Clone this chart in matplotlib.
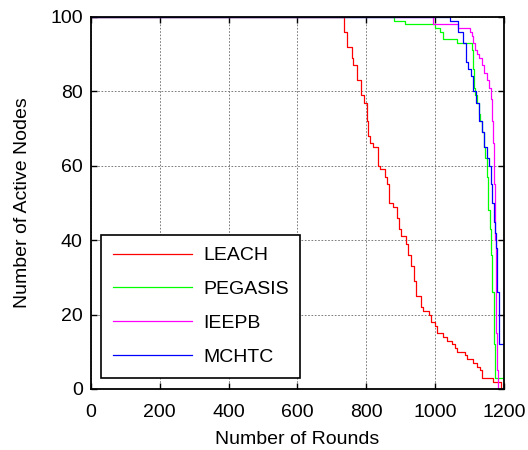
import numpy as np
import matplotlib
matplotlib.use('Agg')
import matplotlib.pyplot as plt

plt.rcParams['font.family'] = ['Liberation Sans', 'DejaVu Sans']
plt.rcParams['font.size'] = 14

# alive nodes per round (step changes only)
leach_rounds = [0, 736, 743, 757, 762, 773, 785, 792, 801, 806, 811, 820, 834, 840, 855, 861,
                866, 877, 889, 896, 901, 916, 922, 930, 939, 945, 959, 965, 977, 982, 988,
                1000, 1006, 1023, 1034, 1049, 1058, 1064, 1087, 1092, 1111, 1121, 1131, 1135,
                1168, 1190, 1200]
leach_alive = [100, 96, 92, 89, 87, 83, 79, 77, 72, 68, 66, 65, 60, 59, 57, 55,
               50, 49, 46, 43, 41, 39, 36, 33, 29, 25, 22, 21, 21, 20, 18,
               17, 15, 14, 13, 12, 11, 10, 9, 8, 7, 6, 5, 3,
               2, 0, 0]

pegasis_rounds = [0, 881, 913, 1000, 1014, 1023, 1064, 1107, 1111, 1113, 1116, 1122, 1127,
                  1131, 1136, 1143, 1146, 1150, 1154, 1158, 1162, 1166, 1170, 1174, 1200]
pegasis_alive = [100, 99, 98, 97, 96, 94, 93, 91, 86, 81, 79, 77, 74,
                 72, 69, 65, 62, 57, 48, 43, 36, 26, 12, 3, 3]

ieepb_rounds = [0, 994, 1067, 1102, 1106, 1111, 1116, 1122, 1128, 1136, 1143, 1151, 1157,
                1162, 1164, 1167, 1170, 1172, 1174, 1176, 1178, 1180, 1182, 1200]
ieepb_alive = [100, 98, 97, 96, 95, 93, 91, 90, 89, 87, 85, 83, 81,
               78, 72, 66, 62, 55, 40, 25, 15, 5, 0, 0]

mchtc_rounds = [0, 1044, 1067, 1081, 1090, 1096, 1104, 1111, 1119, 1128, 1136, 1143, 1150,
                1157, 1162, 1166, 1170, 1174, 1177, 1181, 1185, 1200]
mchtc_alive = [100, 99, 96, 93, 88, 86, 84, 80, 77, 72, 69, 65, 62,
               60, 55, 50, 45, 42, 38, 26, 12, 12]

fig = plt.figure(figsize=(5.28, 4.5), dpi=100)
ax = fig.add_axes([0.1723, 0.1356, 0.7822, 0.8267])

ax.plot(leach_rounds, leach_alive, color='#ff0000', lw=0.9, drawstyle='steps-post', label='LEACH')
ax.plot(pegasis_rounds, pegasis_alive, color='#00ff00', lw=0.9, drawstyle='steps-post', label='PEGASIS')
ax.plot(ieepb_rounds, ieepb_alive, color='#ff00ff', lw=0.9, drawstyle='steps-post', label='IEEPB')
ax.plot(mchtc_rounds, mchtc_alive, color='#0000ff', lw=0.9, drawstyle='steps-post', label='MCHTC')

ax.set_xlim(0, 1200)
ax.set_ylim(0, 100)
ax.set_xticks(np.arange(0, 1201, 200))
ax.set_yticks(np.arange(0, 101, 20))
ax.tick_params(direction='in', length=4, width=1, top=True, right=True)
ax.tick_params(axis='x', pad=11)
ax.tick_params(axis='y', pad=6)
ax.grid(True, color='0.4', linestyle=(0, (2, 2)), linewidth=0.6)
for s in ax.spines.values():
    s.set_linewidth(1.3)

ax.set_xlabel('Number of Rounds', labelpad=7)
ax.set_ylabel('Number of Active Nodes', labelpad=14)

leg = ax.legend(loc='lower left', bbox_to_anchor=(0.024, 0.03), borderaxespad=0,
                fancybox=False, framealpha=1, edgecolor='black', handlelength=4.1,
                handletextpad=0.55, labelspacing=0.84, borderpad=0.6)
leg.get_frame().set_linewidth(1.2)

fig.savefig('out.png', dpi=100)
